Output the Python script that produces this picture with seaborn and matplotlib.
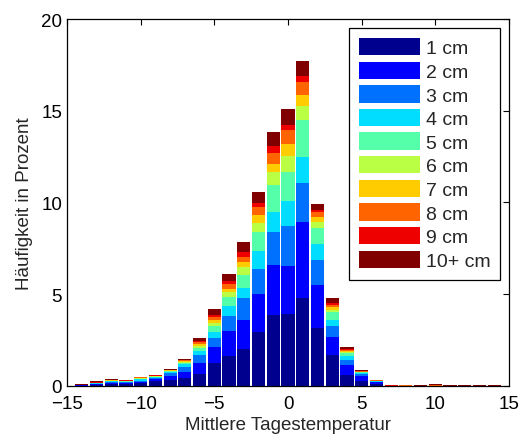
import numpy as np
import matplotlib
matplotlib.use("Agg")
import matplotlib.pyplot as plt
from matplotlib.patches import Patch
import seaborn as sns

temps = list(range(-14, 15))
labels = ["1 cm", "2 cm", "3 cm", "4 cm", "5 cm", "6 cm", "7 cm", "8 cm", "9 cm", "10+ cm"]
colors = ["#00008F", "#0000FF", "#0070FF", "#00DDFF", "#55FFAA",
          "#BBFF44", "#FFCC00", "#FF6400", "#EE0000", "#800000"]

#       -14   -13   -12   -11   -10    -9    -8    -7    -6    -5    -4    -3    -2    -1     0     1     2     3     4     5     6     7     8     9    10    11    12    13    14
s1  = [0.01, 0.04, 0.10, 0.09, 0.15, 0.25, 0.33, 0.42, 0.64, 1.24, 1.60, 2.00, 2.93, 3.87, 3.91, 4.76, 3.15, 1.67, 0.60, 0.27, 0.09, 0.00, 0.00, 0.00, 0.00, 0.00, 0.00, 0.00, 0.00]
s2  = [0.01, 0.04, 0.05, 0.05, 0.05, 0.10, 0.22, 0.35, 0.60, 0.85, 1.38, 1.60, 2.07, 2.71, 2.62, 4.19, 2.34, 1.00, 0.53, 0.28, 0.11, 0.00, 0.00, 0.00, 0.00, 0.00, 0.00, 0.00, 0.00]
s3  = [0.01, 0.03, 0.04, 0.04, 0.08, 0.06, 0.12, 0.27, 0.43, 0.51, 0.80, 1.16, 1.36, 1.82, 2.16, 2.10, 1.35, 0.60, 0.29, 0.07, 0.02, 0.00, 0.00, 0.00, 0.00, 0.00, 0.00, 0.00, 0.00]
s4  = [0.00, 0.02, 0.04, 0.04, 0.06, 0.05, 0.08, 0.13, 0.20, 0.31, 0.55, 0.58, 1.00, 1.09, 1.40, 1.45, 0.89, 0.33, 0.18, 0.07, 0.02, 0.00, 0.00, 0.00, 0.00, 0.00, 0.00, 0.00, 0.00]
s5  = [0.00, 0.01, 0.03, 0.02, 0.04, 0.03, 0.04, 0.09, 0.18, 0.33, 0.49, 0.71, 1.00, 1.46, 1.55, 1.99, 0.87, 0.40, 0.16, 0.04, 0.02, 0.00, 0.00, 0.00, 0.00, 0.00, 0.00, 0.00, 0.00]
s6  = [0.00, 0.01, 0.02, 0.02, 0.03, 0.02, 0.02, 0.05, 0.13, 0.16, 0.27, 0.40, 0.49, 0.72, 0.91, 0.75, 0.31, 0.15, 0.09, 0.02, 0.01, 0.00, 0.00, 0.00, 0.00, 0.00, 0.00, 0.00, 0.00]
s7  = [0.00, 0.01, 0.01, 0.01, 0.02, 0.02, 0.02, 0.04, 0.09, 0.20, 0.18, 0.31, 0.48, 0.42, 0.63, 0.63, 0.31, 0.12, 0.04, 0.02, 0.01, 0.00, 0.00, 0.00, 0.00, 0.00, 0.00, 0.00, 0.00]
s8  = [0.00, 0.01, 0.01, 0.01, 0.02, 0.02, 0.02, 0.04, 0.09, 0.13, 0.28, 0.24, 0.40, 0.60, 0.75, 0.71, 0.23, 0.13, 0.06, 0.02, 0.01, 0.01, 0.02, 0.00, 0.02, 0.00, 0.00, 0.00, 0.00]
s9  = [0.01, 0.01, 0.01, 0.01, 0.01, 0.01, 0.01, 0.03, 0.06, 0.14, 0.14, 0.27, 0.23, 0.36, 0.29, 0.32, 0.11, 0.11, 0.03, 0.02, 0.00, 0.02, 0.02, 0.01, 0.02, 0.01, 0.01, 0.01, 0.01]
s10 = [0.07, 0.05, 0.04, 0.04, 0.04, 0.04, 0.04, 0.06, 0.18, 0.29, 0.42, 0.55, 0.62, 0.77, 0.87, 0.83, 0.33, 0.29, 0.11, 0.05, 0.02, 0.03, 0.02, 0.01, 0.03, 0.01, 0.01, 0.01, 0.01]

series = [s1, s2, s3, s4, s5, s6, s7, s8, s9, s10]
xticks = [-15, -10, -5, 0, 5, 10, 15]
yticks = [0, 5, 10, 15, 20]

sns.set_style("white")
plt.rcParams["font.family"] = ["Liberation Sans", "DejaVu Sans"]
plt.rcParams["font.size"] = 13.5

fig = plt.figure(figsize=(5.21, 4.39), dpi=100)
ax = fig.add_axes([67 / 521, 1 - 386.7 / 439, 442 / 521, 366.7 / 439])

cums = np.cumsum(np.array(series), axis=0)
for k in range(len(series) - 1, -1, -1):
    sns.barplot(x=temps, y=cums[k], color=colors[k], native_scale=True,
                width=0.9, linewidth=0, errorbar=None, saturation=1, ax=ax)

ax.set_xlim(-15, 15)
ax.set_ylim(0, 20)
ax.set_xticks(xticks)
ax.set_yticks(yticks)
ax.set_xticklabels([("\u2212" + str(-t)) if t < 0 else str(t) for t in xticks])
ax.tick_params(direction="in", top=True, right=True, length=4, width=0.8,
               colors="black", labelsize=13.5)
ax.tick_params(axis="x", pad=6.5)
for sp in ax.spines.values():
    sp.set_visible(True)
    sp.set_color("black")
    sp.set_linewidth(0.9)

ax.set_xlabel("Mittlere Tagestemperatur", fontsize=13.5, labelpad=3)
ax.set_ylabel("Häufigkeit in Prozent", fontsize=13.5, labelpad=6)

handles = [Patch(facecolor=c, edgecolor="none") for c in colors]
leg = ax.legend(handles, labels, loc="upper right", bbox_to_anchor=(0.98, 0.975),
                borderaxespad=0, fontsize=14, handlelength=3.14, handleheight=1.0,
                handletextpad=0.3, labelspacing=0.22, borderpad=0.5,
                fancybox=False, framealpha=1, edgecolor="black")
leg.get_frame().set_linewidth(0.9)

fig.savefig("out.png", dpi=100)
